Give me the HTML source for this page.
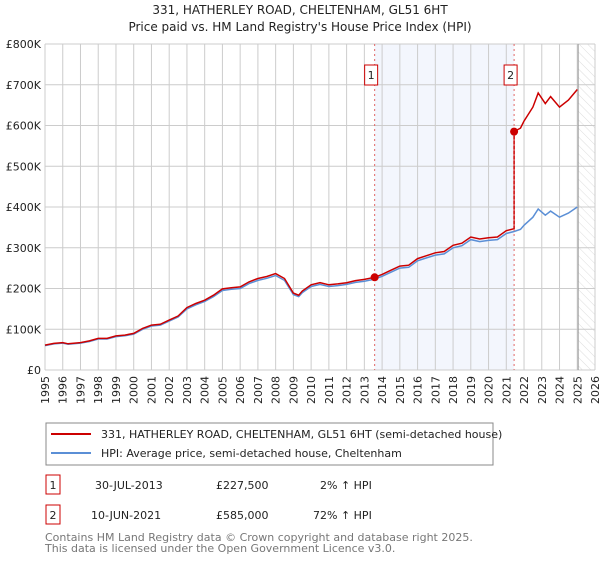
<!DOCTYPE html>
<html><head><meta charset="utf-8"><style>
body{margin:0;background:#fff;width:600px;height:560px;overflow:hidden;font-family:"DejaVu Sans","Liberation Sans",sans-serif;}
svg text{font-family:"DejaVu Sans","Liberation Sans",sans-serif;}
</style></head><body>
<svg id="chart" width="600" height="560" xmlns="http://www.w3.org/2000/svg">
<defs><pattern id="hatch" width="6" height="6" patternUnits="userSpaceOnUse" patternTransform="rotate(-45)"><line x1="0" y1="0" x2="0" y2="6" stroke="#ddd" stroke-width="1"/></pattern></defs>
<text x="300" y="14" text-anchor="middle" font-size="12" fill="#222">331, HATHERLEY ROAD, CHELTENHAM, GL51 6HT</text>
<text x="300" y="31" text-anchor="middle" font-size="12" fill="#222">Price paid vs. HM Land Registry's House Price Index (HPI)</text>
<g id="grid"></g><g id="marks"></g><g id="axes"></g>
<g>
<rect x="46" y="423" width="447" height="42" fill="#fff" stroke="#888"/>
<line x1="51" y1="434" x2="91" y2="434" stroke="#cc0000" stroke-width="2"/>
<text x="101" y="438" font-size="11" fill="#222">331, HATHERLEY ROAD, CHELTENHAM, GL51 6HT (semi-detached house)</text>
<line x1="51" y1="453" x2="91" y2="453" stroke="#5b8fd6" stroke-width="2"/>
<text x="101" y="457" font-size="11" fill="#222">HPI: Average price, semi-detached house, Cheltenham</text>
</g>
<g font-size="11" fill="#222">
<rect x="46" y="475" width="14" height="19" fill="#fff" stroke="#cc0000"/><text x="53" y="489" text-anchor="middle">1</text>
<text x="95" y="489">30-JUL-2013</text><text x="216" y="489">£227,500</text><text x="320" y="489">2% ↑ HPI</text>
<rect x="46" y="505" width="14" height="19" fill="#fff" stroke="#cc0000"/><text x="53" y="519" text-anchor="middle">2</text>
<text x="91" y="519">10-JUN-2021</text><text x="216" y="519">£585,000</text><text x="313" y="519">72% ↑ HPI</text>
</g>
<text x="45" y="541" font-size="11" fill="#777">Contains HM Land Registry data © Crown copyright and database right 2025.</text>
<text x="45" y="552" font-size="11" fill="#777">This data is licensed under the Open Government Licence v3.0.</text>
</svg>
<script>
const hpiYears=[1995,1995.5,1996,1996.3,1997,1997.5,1998,1998.5,1999,1999.5,2000,2000.5,2001,2001.5,2002,2002.5,2003,2003.5,2004,2004.5,2005,2005.5,2006,2006.5,2007,2007.5,2008,2008.5,2009,2009.3,2009.5,2010,2010.5,2011,2011.5,2012,2012.5,2013,2013.58,2014,2014.5,2015,2015.5,2016,2016.5,2017,2017.5,2018,2018.5,2019,2019.5,2020,2020.5,2021,2021.44,2021.8,2022,2022.5,2022.8,2023.2,2023.5,2024,2024.5,2025];
const hpiValues=[60,64,66,63,66,70,76,76,82,84,88,100,108,110,120,130,150,160,168,180,195,198,200,212,220,225,232,220,185,180,190,205,210,205,207,210,215,218,223,230,240,250,252,268,275,282,285,300,305,320,315,318,320,335,340,345,355,375,395,380,390,375,385,400];
const saleYears=[2013.58,2021.44];
const salePrices=[227.5,585];
const saleLabels=["1","2"];
const yTicks=[0,100,200,300,400,500,600,700,800];
const yTickLabels=["£0","£100K","£200K","£300K","£400K","£500K","£600K","£700K","£800K"];
const xTicks=[1995,1996,1997,1998,1999,2000,2001,2002,2003,2004,2005,2006,2007,2008,2009,2010,2011,2012,2013,2014,2015,2016,2017,2018,2019,2020,2021,2022,2023,2024,2025,2026];
const X0=45,X1=595,Y0=370,Y1=44,xMin=1995,xMax=2026,yMax=800;
const xs=v=>X0+(v-xMin)/(xMax-xMin)*(X1-X0);
const ys=v=>Y0-v/yMax*(Y0-Y1);
const NS="http://www.w3.org/2000/svg";
function mk(tag,attrs,parent){const e=document.createElementNS(NS,tag);for(const k in attrs)e.setAttribute(k,attrs[k]);parent.appendChild(e);return e;}
const grid=document.getElementById('grid'),marks=document.getElementById('marks'),axes=document.getElementById('axes');
mk('rect',{x:X0,y:Y1,width:X1-X0,height:Y0-Y1,fill:'#fff'},grid);
const sh=mk('rect',{x:xs(saleYears[0]),y:Y1,width:xs(saleYears[1])-xs(saleYears[0]),height:Y0-Y1,fill:'#f3f6fd'},grid);


const ht=mk('rect',{x:xs(2025.05),y:Y1,width:X1-xs(2025.05),height:Y0-Y1,fill:'url(#hatch)'},grid);


yTicks.forEach((t,i)=>{
 mk('line',{x1:X0,y1:ys(t),x2:X1,y2:ys(t),stroke:'#ccc','stroke-width':1},grid);
 const tx=mk('text',{x:X0-4,y:ys(t)+4,'text-anchor':'end','font-size':11,fill:'#222'},axes);
 tx.textContent=yTickLabels[i];
 
 
});
xTicks.forEach(t=>{
 mk('line',{x1:xs(t),y1:Y1,x2:xs(t),y2:Y0,stroke:'#ccc','stroke-width':1},grid);
 const tx=mk('text',{x:0,y:0,transform:`translate(${xs(t)+4},${Y0+6}) rotate(-90)`,'text-anchor':'end','font-size':11,fill:'#222'},axes);
 tx.textContent=String(t);
 
 
});
mk('line',{x1:xs(2025.05),y1:Y1,x2:xs(2025.05),y2:Y0,stroke:'#999','stroke-width':1},grid);
function hpiAt(y){for(let i=0;i<hpiYears.length-1;i++){if(y>=hpiYears[i]&&y<=hpiYears[i+1]){const f=(y-hpiYears[i])/(hpiYears[i+1]-hpiYears[i]);return hpiValues[i]+f*(hpiValues[i+1]-hpiValues[i]);}}return hpiValues[hpiValues.length-1];}
const r1=salePrices[0]/hpiAt(saleYears[0]),r2=salePrices[1]/hpiAt(saleYears[1]);
let hp='',rp='';
hpiYears.forEach((y,i)=>{hp+=(i?'L':'M')+xs(y).toFixed(1)+','+ys(hpiValues[i]).toFixed(1);});
hpiYears.forEach((y,i)=>{const r=y<saleYears[1]?r1:r2;
 if(y===saleYears[1]){rp+='L'+xs(y).toFixed(1)+','+ys(hpiValues[i]*r1).toFixed(1);}
 rp+=(i?'L':'M')+xs(y).toFixed(1)+','+ys(hpiValues[i]*r).toFixed(1);});
const hl=mk('path',{d:hp,fill:'none',stroke:'#5b8fd6','stroke-width':1.5},marks);


const rl=mk('path',{d:rp,fill:'none',stroke:'#cc0000','stroke-width':1.5},marks);


saleYears.forEach((y,i)=>{
 mk('line',{x1:xs(y),y1:Y1,x2:xs(y),y2:Y0,stroke:'#e06666','stroke-width':1,'stroke-dasharray':'2,3'},marks);
 const c=mk('circle',{cx:xs(y),cy:ys(salePrices[i]),r:4,fill:'#cc0000'},marks);
 
 
 const b=mk('rect',{x:xs(y)-10,y:65,width:13,height:20,fill:'#fff',stroke:'#cc0000'},marks);
 
 
 const t=mk('text',{x:xs(y)-3.5,y:79,'text-anchor':'middle','font-size':11,fill:'#222'},marks);
 t.textContent=saleLabels[i];
});
</script>
</body></html>
